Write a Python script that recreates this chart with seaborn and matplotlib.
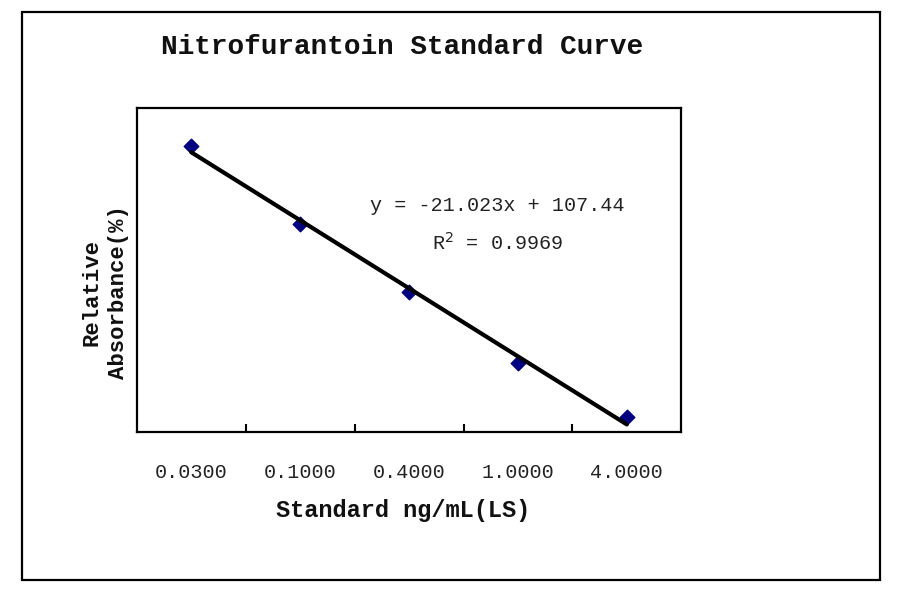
import numpy as np
import pandas as pd
import matplotlib
matplotlib.use("Agg")
import matplotlib.pyplot as plt
from matplotlib.patches import Rectangle
import seaborn as sns

# Data (Excel-style category axis, 1..5)
concentrations = ["0.0300", "0.1000", "0.4000", "1.0000", "4.0000"]
levels = [1, 2, 3, 4, 5]
absorbance = [88.3, 64.4, 43.1, 21.4, 4.7]
equation_text = "y = -21.023x + 107.44"
r2_text = "R$^2$ = 0.9969"

df = pd.DataFrame({"level": levels, "absorbance": absorbance})

sns.set_theme(style="white")
plt.rcParams["font.family"] = ["Liberation Mono", "DejaVu Sans Mono"]

fig = plt.figure(figsize=(9, 5.94), dpi=100)
ax = fig.add_axes([0.152, 0.2727, 0.605, 0.545])

sns.regplot(data=df, x="level", y="absorbance", ax=ax, ci=None,
            marker="D",
            scatter_kws={"color": "#000080", "edgecolors": "#000080",
                         "s": 55, "alpha": 1, "zorder": 2},
            line_kws={"color": "black", "linewidth": 3.0, "zorder": 3})

ax.set_xlim(0.5, 5.5)
ax.set_ylim(0, 100)
ax.set_yticks([])
ax.set_xticks(levels)
ax.set_xticklabels(concentrations, fontsize=14.5, color="#222222")
ax.set_xticks([1.5, 2.5, 3.5, 4.5], minor=True)
ax.tick_params(axis="x", which="major", length=0, pad=22)
ax.tick_params(axis="x", which="minor", direction="in", length=6, width=1.5,
               color="black", bottom=True)
for sp in ax.spines.values():
    sp.set_color("black")
    sp.set_linewidth(1.6)
ax.set_xlabel("")
ax.set_ylabel("")

ax.text(3.81, 70, equation_text, ha="center", va="center", fontsize=14.5,
        color="#222222")
ax.text(3.81, 58.3, r2_text, ha="center", va="center", fontsize=14.5,
        color="#222222")

fig.text(0.447, 0.921, "Nitrofurantoin Standard Curve", ha="center",
         va="center", fontsize=20, fontweight="bold", color="#111111")
fig.text(0.448, 0.140, "Standard ng/mL(LS)", ha="center", va="center",
         fontsize=17, fontweight="bold", color="#111111")
fig.text(0.117, 0.508, "Relative\nAbsorbance(%)", ha="center", va="center",
         rotation=90, fontsize=16, fontweight="bold", color="#111111",
         linespacing=1.35)

fig.patches.append(Rectangle((0.0244, 0.0236), 0.9536, 0.9564,
                             transform=fig.transFigure, fill=False,
                             edgecolor="black", linewidth=1.6))

fig.savefig("out.png", dpi=100, facecolor="white")
